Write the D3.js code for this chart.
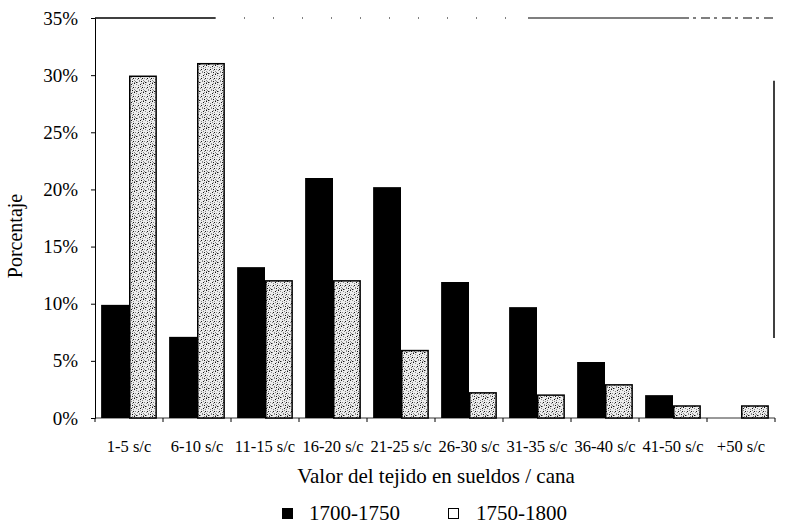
<!DOCTYPE html>
<html><head><meta charset="utf-8">
<script src="https://cdn.jsdelivr.net/npm/d3@7"></script>
<style>body{margin:0;background:#fff}svg{display:block}</style>
</head><body><svg id="c" width="790" height="525"></svg>
<script>
const categories = ["1-5 s/c","6-10 s/c","11-15 s/c","16-20 s/c","21-25 s/c","26-30 s/c","31-35 s/c","36-40 s/c","41-50 s/c","+50 s/c"];
const seriesNames = ["1700-1750","1750-1800"];
const s1700 = [9.9, 7.1, 13.2, 21.0, 20.2, 11.9, 9.7, 4.9, 2.0, 0];
const s1750 = [29.9, 31.0, 12.0, 12.0, 5.9, 2.2, 2.0, 2.9, 1.05, 1.05];
const yTicks = [0,5,10,15,20,25,30,35];

const svg = d3.select("#c");
const m = {l:95, r:775, t:18, b:418};
const font = "'Liberation Serif','Times New Roman',serif";

// speckle pattern for the second series
const defs = svg.append("defs");
const pat = defs.append("pattern").attr("id","spk").attr("patternUnits","userSpaceOnUse")
  .attr("width",9).attr("height",9);
pat.append("rect").attr("width",9).attr("height",9).attr("fill","#ececec");
[[0,0],[2,1],[4,0],[6,2],[1,3],[3,4],[7,4],[5,5],[0,6],[2,7],[6,7],[8,8],[4,8],[8,1]].forEach(([x,y])=>
  pat.append("rect").attr("x",x).attr("y",y).attr("width",1).attr("height",1).attr("fill","#8a8a8a"));
[[1,1],[5,3],[3,6],[7,6],[8,2],[6,0]].forEach(([x,y])=>
  pat.append("rect").attr("x",x).attr("y",y).attr("width",1).attr("height",1).attr("fill","#111"));

const x = d3.scaleBand().domain(categories).range([m.l, m.r]).paddingInner(0.18).paddingOuter(0.09);
const xs = d3.scaleBand().domain(seriesNames).range([0, x.bandwidth()]);
const y = d3.scaleLinear().domain([0,35]).range([m.b, m.t]);

// frame lines (faded in the scan: drawn as partial segments)
const frame = svg.append("g").attr("stroke","#000");
[[m.l,215,1.5],[528,680,1.2]].forEach(([a,b,w])=>
  frame.append("line").attr("x1",a).attr("x2",b).attr("y1",y(35)).attr("y2",y(35)).attr("stroke-width",w));
frame.append("line").attr("x1",680).attr("x2",m.r).attr("y1",y(35)).attr("y2",y(35))
  .attr("stroke-width",1.2).attr("stroke-dasharray","9 4 3 5");
frame.append("line").attr("x1",215).attr("x2",528).attr("y1",y(35)).attr("y2",y(35))
  .attr("stroke-width",1).attr("stroke-dasharray","1 28");
frame.append("line").attr("x1",m.r-1).attr("x2",m.r-1).attr("y1",y(29.5)).attr("y2",y(7)).attr("stroke-width",1.5);

// y axis
const ya = svg.append("g").attr("transform",`translate(${m.l},0)`)
  .call(d3.axisLeft(y).tickValues(yTicks).tickFormat(d=>d+"%").tickSize(4).tickPadding(13));
ya.selectAll("text").attr("font-family",font).attr("font-size",19).attr("fill","#000");
ya.selectAll("line,path").attr("stroke","#000");

// x axis
const bounds = categories.map(c=>x(c)-x.step()*x.paddingInner()/2);
const xa = svg.append("g").attr("transform",`translate(0,${m.b})`);
xa.append("line").attr("x1",m.l).attr("x2",m.r).attr("stroke","#000").attr("stroke-width",0.8);
xa.selectAll("line.t").data(bounds.concat([m.r])).join("line").attr("class","t")
  .attr("x1",d=>d).attr("x2",d=>d).attr("y1",0).attr("y2",4).attr("stroke","#000");
xa.selectAll("text").data(categories).join("text")
  .attr("x",d=>x(d)+x.bandwidth()/2).attr("y",34).attr("text-anchor","middle")
  .attr("font-family",font).attr("font-size",16.5).text(d=>d);

// bars
const g = svg.append("g");
categories.forEach((c,i)=>{
  const v1 = s1700[i], v2 = s1750[i];
  if (v1>0) g.append("rect").attr("x",x(c)+xs(seriesNames[0])).attr("y",y(v1))
    .attr("width",xs.bandwidth()).attr("height",y(0)-y(v1)).attr("fill","#000");
  if (v2>0) g.append("rect").attr("x",x(c)+xs(seriesNames[1])+0.75).attr("y",y(v2))
    .attr("width",xs.bandwidth()-1.5).attr("height",y(0)-y(v2)).attr("fill","url(#spk)")
    .attr("stroke","#000").attr("stroke-width",1.5);
});

// titles
svg.append("text").attr("x",436).attr("y",483).attr("text-anchor","middle")
  .attr("font-family",font).attr("font-size",21).text("Valor del tejido en sueldos / cana");
svg.append("text").attr("transform","translate(22,236) rotate(-90)").attr("text-anchor","middle")
  .attr("font-family",font).attr("font-size",20).text("Porcentaje");

// legend
const lg = svg.append("g").attr("font-family",font).attr("font-size",21);
lg.append("rect").attr("x",282).attr("y",508).attr("width",11).attr("height",11).attr("fill","#000");
lg.append("text").attr("x",309).attr("y",520).text(seriesNames[0]);
lg.append("rect").attr("x",448.5).attr("y",508.5).attr("width",10).attr("height",10).attr("fill","#fff").attr("stroke","#000");
lg.append("text").attr("x",476).attr("y",520).text(seriesNames[1]);
</script></body></html>
